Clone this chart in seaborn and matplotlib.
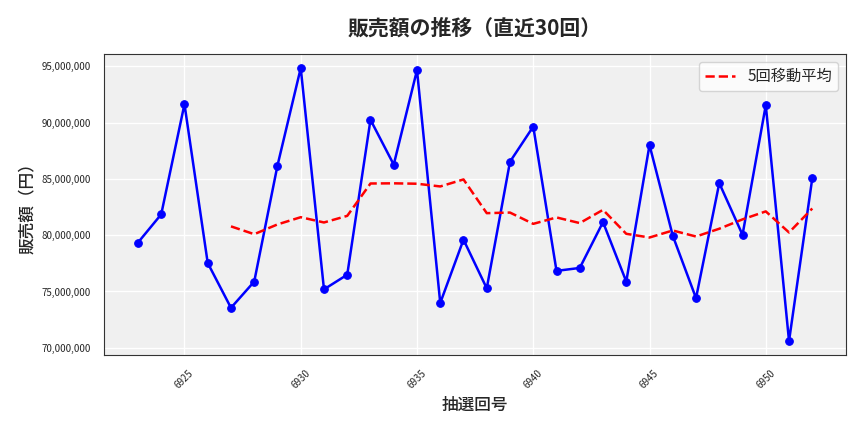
import matplotlib
matplotlib.use("Agg")
import matplotlib.pyplot as plt
import matplotlib.ticker as mticker
import seaborn as sns
import pandas as pd

draws = list(range(6923, 6953))
sales_m = [79.34, 81.85, 91.63, 77.53, 73.55, 75.88, 86.18, 94.83, 75.19, 76.49,
           90.24, 86.26, 94.65, 73.98, 79.60, 75.28, 86.52, 89.64, 76.83, 77.09,
           81.16, 75.88, 88.00, 79.95, 74.41, 84.62, 80.03, 91.54, 70.60, 85.05]

df = pd.DataFrame({"draw": draws, "sales": [v * 1e6 for v in sales_m]})
df["ma"] = df["sales"].rolling(5).mean()

sns.set_theme(style="whitegrid")
plt.rcParams['font.family'] = ['Noto Sans CJK JP', 'DejaVu Sans']

fig, ax = plt.subplots(figsize=(8.64, 4.32), dpi=100)
ax.set_facecolor("#f0f0f0")
sns.lineplot(data=df, x="draw", y="sales", color="blue", marker="o", markersize=5.5,
             markeredgecolor="blue", linewidth=1.8, ax=ax)
sns.lineplot(data=df, x="draw", y="ma", color="red", linestyle="--", linewidth=1.8,
             ax=ax, label="5回移動平均")
ax.grid(True, color="white", linewidth=1)
for s in ax.spines.values():
    s.set_color("#333333"); s.set_linewidth(0.8)
ax.yaxis.set_major_formatter(mticker.FuncFormatter(lambda v, p: f"{v:,.0f}"))
ax.xaxis.set_major_locator(mticker.MultipleLocator(5))
ax.tick_params(axis="x", labelsize=7, rotation=45)
ax.tick_params(axis="y", labelsize=7)
ax.set_title("販売額の推移（直近30回）", fontsize=15, fontweight="bold", pad=14)
ax.set_xlabel("抽選回号", fontsize=12, fontweight="medium")
ax.set_ylabel("販売額（円）", fontsize=12, fontweight="medium")
ax.legend(loc="upper right", fontsize=11, facecolor="white")
fig.tight_layout()
fig.savefig("out.png", dpi=100)
